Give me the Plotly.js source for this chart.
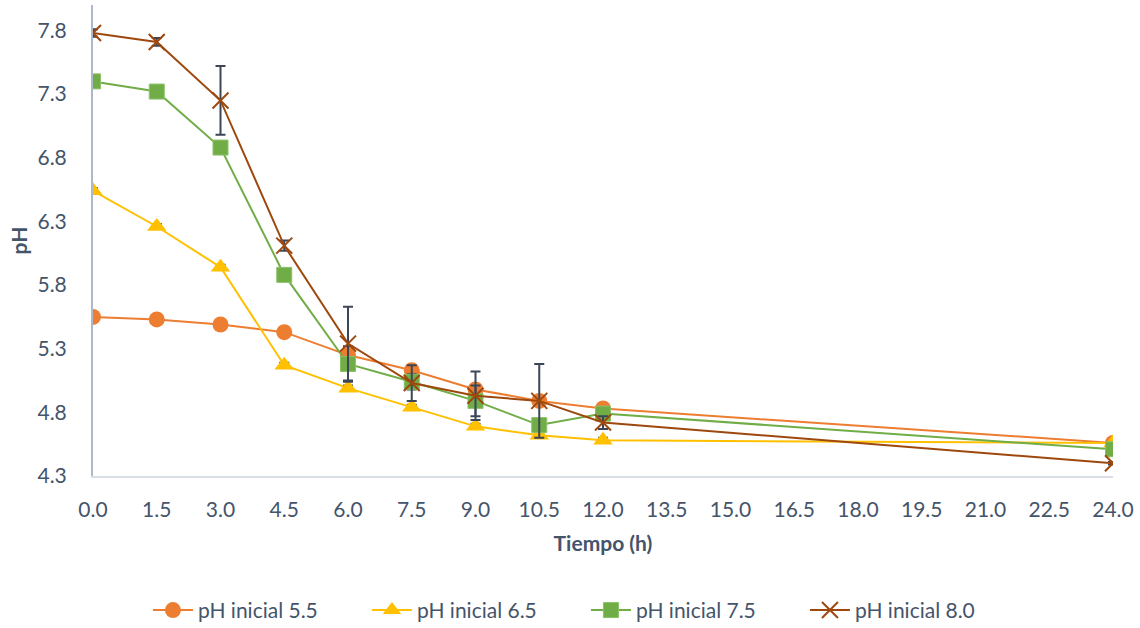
<!DOCTYPE html>
<html>
<head>
<meta charset="utf-8">
<script src="https://cdn.plot.ly/plotly-3.0.1.min.js"></script>
<style>html,body{margin:0;padding:0;background:#fff;}#chart{width:1140px;height:628px;}</style>
</head>
<body>
<div id="chart"></div>
<script>
const tiempo = [0, 1.5, 3.0, 4.5, 6.0, 7.5, 9.0, 10.5, 12.0, 24.0];
const ph55 = [5.55, 5.53, 5.49, 5.43, 5.25, 5.13, 4.98, 4.89, 4.83, 4.56];
const ph65 = [6.54, 6.26, 5.94, 5.17, 4.99, 4.84, 4.69, 4.62, 4.58, 4.56];
const ph75 = [7.40, 7.32, 6.88, 5.88, 5.18, 5.04, 4.89, 4.70, 4.79, 4.51];
const ph80 = [7.78, 7.71, 7.25, 6.11, 5.34, 5.03, 4.93, 4.89, 4.72, 4.40];
const err55 = [0.01, 0.01, 0.01, 0.01, 0.02, 0.02, 0.02, 0.02, 0.03, 0.01];
const err65 = [0.02, 0.02, 0.02, 0.02, 0.02, 0.02, 0.02, 0.02, 0.02, 0.01];
const err75 = [0.01, 0.01, 0.01, 0.01, 0.14, 0.06, 0.12, 0.02, 0.03, 0.01];
const err80 = [0.03, 0.03, 0.27, 0.04, 0.29, 0.14, 0.19, 0.29, 0.05, 0.01];
const names = ['pH inicial 5.5', 'pH inicial 6.5', 'pH inicial 7.5', 'pH inicial 8.0'];

const txt = '#44546A';
const font = 'Lato, "Open Sans", sans-serif';
const ebar = (a) => ({type: 'data', array: a, visible: true, color: '#3B4658', thickness: 2, width: 5});

const traces = [
  {x: tiempo, y: ph55, name: names[0], error_y: ebar(err55), mode: 'lines+markers', type: 'scatter',
   line: {color: '#ED7D31', width: 2}, marker: {symbol: 'circle', size: 16, color: '#ED7D31'}},
  {x: tiempo, y: ph65, name: names[1], error_y: ebar(err65), mode: 'lines+markers', type: 'scatter',
   line: {color: '#FFC000', width: 2}, marker: {symbol: 'triangle-up', size: 17, color: '#FFC000'}},
  {x: tiempo, y: ph75, name: names[2], error_y: ebar(err75), mode: 'lines+markers', type: 'scatter',
   line: {color: '#70AD47', width: 2}, marker: {symbol: 'square', size: 15, color: '#70AD47', line: {color: '#8CC168', width: 1}}},
  {x: tiempo, y: ph80, name: names[3], error_y: ebar(err80), mode: 'lines+markers', type: 'scatter',
   line: {color: '#9E480E', width: 2}, marker: {symbol: 'x-thin', size: 16, color: '#9E480E', line: {color: '#9E480E', width: 2}}}
];

const layout = {
  width: 1140, height: 628,
  margin: {l: 93, r: 27, t: 5, b: 152},
  paper_bgcolor: '#fff', plot_bgcolor: '#fff',
  font: {family: font, size: 21, color: txt},
  showlegend: true,
  legend: {orientation: 'h', xref: 'container', yref: 'container', x: 0.514, xanchor: 'center', y: 0.028, yanchor: 'middle',
           font: {family: font, size: 21, color: txt}, traceorder: 'normal',
           entrywidth: 164, entrywidthmode: 'pixels', itemwidth: 40},
  xaxis: {
    range: [0, 24.0], tick0: 0, dtick: 1.5, tickformat: '.1f',
    showgrid: false, zeroline: false, showline: true, linecolor: '#D9DEE6', linewidth: 2,
    ticks: 'outside', ticklen: 14, tickcolor: 'rgba(0,0,0,0)',
    tickfont: {family: font, size: 21, color: txt},
    title: {text: 'Tiempo (h)', font: {family: font, size: 21, color: txt, weight: 'bold'}, standoff: 16}
  },
  yaxis: {
    range: [4.3, 8.0], tick0: 4.3, dtick: 0.5, tickformat: '.1f', automargin: true,
    showgrid: false, zeroline: false, showline: true, linecolor: '#ADB9CA', linewidth: 2,
    ticks: 'outside', ticklen: 20, tickcolor: 'rgba(0,0,0,0)',
    tickfont: {family: font, size: 21, color: txt},
    title: {text: 'pH', font: {family: font, size: 21, color: txt, weight: 'bold'}, standoff: 4}
  }
};

Plotly.newPlot('chart', traces, layout, {displayModeBar: false, staticPlot: true});
</script>
</body>
</html>
